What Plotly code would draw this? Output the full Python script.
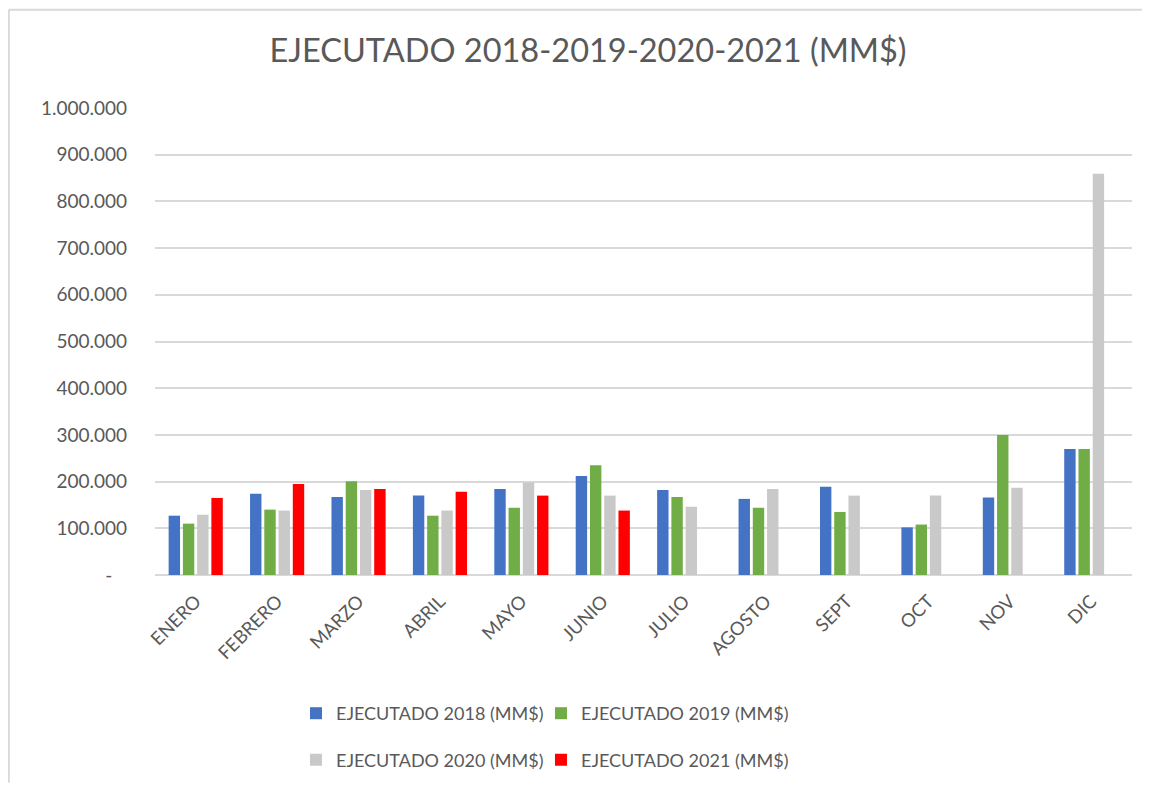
import plotly.graph_objects as go

months = ["ENERO", "FEBRERO", "MARZO", "ABRIL", "MAYO", "JUNIO", "JULIO",
          "AGOSTO", "SEPT", "OCT", "NOV", "DIC"]
ej2018 = [127000, 174000, 167000, 170000, 184000, 212000, 182000, 163000, 189000, 102000, 166000, 270000]
ej2019 = [110000, 140000, 201000, 127000, 144000, 235000, 167000, 144000, 135000, 108000, 300000, 270000]
ej2020 = [129000, 138000, 182000, 138000, 198000, 170000, 146000, 184000, 170000, 170000, 187000, 859000]
ej2021 = [165000, 195000, 184000, 178000, 170000, 138000, None, None, None, None, None, None]

names = ["EJECUTADO 2018 (MM$)", "EJECUTADO 2019 (MM$)",
         "EJECUTADO 2020 (MM$)", "EJECUTADO 2021 (MM$)"]
colors = ["#4472C4", "#70AD47", "#C9C9C9", "#FF0000"]
legends = ["legend", "legend2", "legend3", "legend4"]

tick_vals = [0, 100000, 200000, 300000, 400000, 500000, 600000, 700000, 800000, 900000, 1000000]
tick_text = ["-\u00a0\u00a0\u00a0", "100.000", "200.000", "300.000", "400.000", "500.000", "600.000",
             "700.000", "800.000", "900.000", "1.000.000"]

FONT = "Lato, 'Open Sans', sans-serif"
TXT = "#595959"

# figure is drawn inside a page with an 8px body margin
W, H = 1142, 782
L, T, R, B = 147, 100, 18, 210
PW, PH = W - L - R, H - T - B

fig = go.Figure()
for vals, nm, col, lg in zip([ej2018, ej2019, ej2020, ej2021], names, colors, legends):
    fig.add_trace(go.Bar(x=months, y=vals, name=nm, marker_color=col,
                         marker_line_width=0, legend=lg))

col_x = [0.1443, 0.1443 + 245 / PW]
row_y = [(PH + T - 712) / PH, (PH + T - 759) / PH]


def leg(x, y):
    return dict(orientation="h", x=x, xanchor="left", y=y, yanchor="middle",
                font=dict(family=FONT, size=18, color=TXT), bgcolor="rgba(0,0,0,0)",
                itemclick=False)


fig.update_layout(
    width=W, height=H,
    margin=dict(l=L, r=R, t=T, b=B),
    paper_bgcolor="white", plot_bgcolor="white",
    font=dict(family=FONT, color=TXT, size=18),
    title=dict(text="EJECUTADO 2018-2019-2020-2021 (MM$)", x=580 / W, xanchor="center",
               y=1 - 43 / H, yanchor="middle",
               font=dict(family=FONT, size=32.5, color=TXT)),
    barmode="group", bargap=0.3, bargroupgap=0.2,
    showlegend=True,
    legend=leg(col_x[0], row_y[0]),
    legend2=leg(col_x[1], row_y[0]),
    legend3=leg(col_x[0], row_y[1]),
    legend4=leg(col_x[1], row_y[1]),
    xaxis=dict(tickangle=-45, showgrid=False, showline=False, ticks="",
               ticklabelstandoff=11,
               tickfont=dict(family=FONT, size=18.5, color=TXT)),
    yaxis=dict(range=[0, 1000000], tickvals=tick_vals, ticktext=tick_text,
               showgrid=True, gridcolor="#D9D9D9", gridwidth=2,
               zeroline=True, zerolinecolor="#D9D9D9", zerolinewidth=2,
               showline=False, ticks="", ticklabelstandoff=27,
               tickfont=dict(family=FONT, size=19, color=TXT)),
    shapes=[
        dict(type="line", xref="paper", yref="paper",
             x0=(0.8 - L) / PW, x1=(0.8 - L) / PW,
             y0=(PH + T - H) / PH, y1=(PH + T - 0.8) / PH,
             line=dict(color="#D9D9D9", width=2), layer="below"),
        dict(type="line", xref="paper", yref="paper",
             x0=(0.8 - L) / PW, x1=(W - L) / PW,
             y0=(PH + T - 0.8) / PH, y1=(PH + T - 0.8) / PH,
             line=dict(color="#D9D9D9", width=2), layer="below"),
    ],
)

fig.write_html("out.html")
